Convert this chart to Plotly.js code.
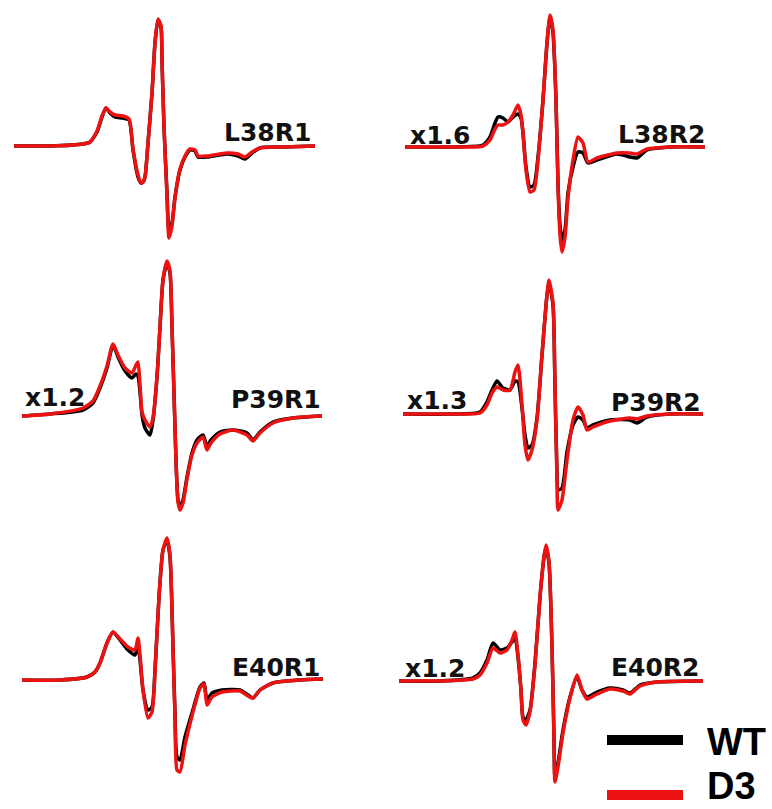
<!DOCTYPE html>
<html><head><meta charset="utf-8">
<script src="https://cdn.plot.ly/plotly-3.0.1.min.js"></script>
<style>html,body{margin:0;padding:0;background:#fff}#chart{width:772px;height:809px}</style>
</head><body><div id="chart"></div>
<script>
// ---------- DATA ----------
const panelNames  = ["L38R1", "L38R2", "P39R1", "P39R2", "E40R1", "E40R2"];
const scaleLabels = ["", "x1.6", "x1.2", "x1.3", "", "x1.2"];
const seriesNames = ["WT", "D3"];

// L38R1
const l38r1Field = [0,36,69,76,83,88,92,96,101,109,115,119,124,127,129,131,134,138,141,144,147,148,150,153,155,158,161,166,171,176,181,184,193,213,224,231,238,246,269,301];
const l38r1WT    = [0,0,2,4,14,29,38,33,29,28,26,-4,-31,-37,-36,-31,3,53,103,126,119,86,19,-47,-86,-77,-51,-24,-11,-4,-5,-11,-11,-8,-10,-13,-7,-2,-1,0];
const l38r1D3    = [0,0,2,4,15,30,38,34,31,30,27,-3,-29,-37,-36,-31,3,53,103,127,120,86,19,-50,-92,-80,-52,-23,-10,-3,-4,-10,-10,-7,-8,-11,-6,-2,-1,0];

// L38R2
const l38r2Field = [0,45,78,85,90,93,98,103,108,113,116,118,121,125,129,133,138,142,145,148,151,153,155,157,160,163,168,173,178,183,192,212,225,232,242,265,300];
const l38r2WT    = [0,0,2,10,24,30,29,25,30,33,29,14,-20,-40,-38,-10,47,104,130,114,47,-36,-78,-93,-83,-46,-20,-5,-6,-16,-13,-7,-10,-11,-3,0,0];
const l38r2D3    = [0,0,1,7,18,22,22,25,32,42,32,14,-23,-45,-43,-13,47,104,132,117,47,-38,-88,-105,-90,-51,-13,10,4,-15,-11,-6,-6,-7,-2,0,0];

// P39R1
const p39r1Field = [0,28,61,71,78,85,91,96,103,110,114,116,118,120,123,128,131,135,138,141,145,148,150,152,154,156,158,161,165,170,175,181,185,189,198,211,225,231,238,251,271,300];
const p39r1WT    = [-1,1,5,12,27,47,70,58,44,37,41,39,23,0,-13,-20,-5,38,88,135,152,142,88,22,-45,-85,-92,-85,-62,-38,-25,-20,-31,-25,-17,-15,-18,-25,-17,-7,-3,-1];
const p39r1D3    = [-1,1,7,14,29,49,71,60,47,42,50,53,30,3,-5,-12,-3,38,88,135,154,144,88,22,-45,-87,-95,-88,-64,-40,-28,-22,-35,-28,-19,-15,-20,-26,-18,-8,-3,-1];

// P39R2
const p39r2Field = [0,47,77,84,89,94,100,107,112,115,119,122,125,129,134,139,144,146,150,152,154,155,159,164,170,175,180,184,190,207,227,234,244,267,300];
const p39r2WT    = [0,0,2,12,24,33,26,24,33,32,6,-21,-34,-31,-4,59,119,131,109,26,-58,-76,-74,-38,-11,-3,-6,-14,-11,-6,-6,-9,-3,0,0];
const p39r2D3    = [0,0,1,9,21,27,24,24,42,49,9,-31,-46,-36,-6,59,119,134,111,26,-66,-96,-86,-46,-6,7,-1,-16,-13,-7,-4,-5,-2,0,0];

// E40R1
const e40r1Field = [0,38,65,73,78,85,91,98,106,113,116,118,121,126,130,133,137,141,145,148,151,153,155,158,163,170,178,182,185,190,200,218,226,231,238,251,278,301];
const e40r1WT    = [0,0,3,8,17,37,48,40,30,25,35,20,-10,-30,-27,10,83,130,140,123,33,-33,-77,-80,-57,-33,-7,-3,-20,-13,-10,-10,-15,-18,-10,-3,0,1];
const e40r1D3    = [0,0,3,8,17,37,48,41,33,30,42,25,-10,-38,-32,8,83,130,142,125,33,-38,-90,-92,-65,-36,-8,-4,-25,-17,-12,-11,-16,-18,-10,-3,0,1];

// E40R2
const e40r2Field = [0,41,74,81,88,94,101,108,113,116,119,122,124,127,131,136,141,145,147,150,153,155,156,159,164,171,178,183,188,198,211,224,231,241,258,304];
const e40r2WT    = [0,0,3,8,21,38,31,33,39,44,24,-9,-36,-39,-29,18,84,124,134,118,34,-56,-96,-82,-49,-16,4,-9,-16,-11,-7,-9,-12,-4,-1,0];
const e40r2D3    = [0,0,2,6,18,33,28,31,41,49,26,-9,-39,-44,-31,16,84,124,136,119,34,-59,-101,-86,-52,-17,6,-9,-18,-13,-8,-10,-13,-5,-1,0];

const fields = [l38r1Field, l38r2Field, p39r1Field, p39r2Field, e40r1Field, e40r2Field];
const wtData = [l38r1WT, l38r2WT, p39r1WT, p39r2WT, e40r1WT, e40r2WT];
const d3Data = [l38r1D3, l38r2D3, p39r1D3, p39r2D3, e40r1D3, e40r2D3];

// ---------- LAYOUT / STYLE ----------
const W = 772, H = 809;
const colors = { WT: "#000000", D3: "rgb(236,18,18)" };
// panel placement: left edge of trace (px) and baseline (px)
const place = [
  {x0: 14,  base: 146}, {x0: 405, base: 147},
  {x0: 22,  base: 415}, {x0: 403, base: 414},
  {x0: 22,  base: 680}, {x0: 399, base: 681}
];
// label placement (px): name right edge & center y, scale label left edge & center y
const namePos  = [{x:313,y:132},{x:707,y:134},{x:323,y:399},{x:703,y:402},{x:323,y:667},{x:702,y:667}];
const scalePos = [null,{x:408,y:135},{x:23,y:397},{x:405,y:401},null,{x:403,y:668}];

const px = v => v / W, py = v => 1 - v / H;

const traces = [];
const layout = {
  width: W, height: H, autosize: false,
  margin: {l: 0, r: 0, t: 0, b: 0, pad: 0},
  paper_bgcolor: "#ffffff", plot_bgcolor: "rgba(0,0,0,0)",
  showlegend: false, annotations: [], shapes: []
};

for (let i = 0; i < 6; i++) {
  const n = i === 0 ? "" : String(i + 1);
  const xa = "x" + n, ya = "y" + n;
  layout["xaxis" + n] = {domain: [0, 1], range: [-place[i].x0, W - place[i].x0], visible: false, fixedrange: true, anchor: ya};
  layout["yaxis" + n] = {domain: [0, 1], range: [place[i].base - H, place[i].base], visible: false, fixedrange: true, anchor: xa};
  [[seriesNames[0], wtData[i]], [seriesNames[1], d3Data[i]]].forEach(([name, ys]) => {
    traces.push({
      type: "scatter", mode: "lines", name: name,
      x: fields[i], y: ys, xaxis: xa, yaxis: ya,
      line: {color: colors[name], width: 3.5, shape: "spline", smoothing: 0.6},
      hoverinfo: "skip"
    });
  });
  layout.annotations.push({
    text: "<b>" + panelNames[i] + "</b>", xref: "paper", yref: "paper",
    x: px(namePos[i].x), y: py(namePos[i].y), xanchor: "right", yanchor: "middle",
    showarrow: false, font: {family: "DejaVu Sans", size: 25, color: "#111"}
  });
  if (scaleLabels[i]) {
    layout.annotations.push({
      text: "<b>" + scaleLabels[i] + "</b>", xref: "paper", yref: "paper",
      x: px(scalePos[i].x), y: py(scalePos[i].y), xanchor: "left", yanchor: "middle",
      showarrow: false, font: {family: "DejaVu Sans", size: 25, color: "#111"}
    });
  }
}

// legend
const legendRows = [{name: seriesNames[0], y: 740, ty: 742}, {name: seriesNames[1], y: 795, ty: 786}];
legendRows.forEach(r => {
  layout.shapes.push({type: "line", xref: "paper", yref: "paper",
    x0: px(607), x1: px(683), y0: py(r.y), y1: py(r.y),
    line: {color: colors[r.name], width: 10}});
  layout.annotations.push({text: "<b>" + r.name + "</b>", xref: "paper", yref: "paper",
    x: px(705), y: py(r.ty), xanchor: "left", yanchor: "middle", showarrow: false,
    font: {family: "Liberation Sans", size: 38, color: "#000"}});
});

Plotly.newPlot("chart", traces, layout, {staticPlot: true, displayModeBar: false});
</script>
</body></html>
